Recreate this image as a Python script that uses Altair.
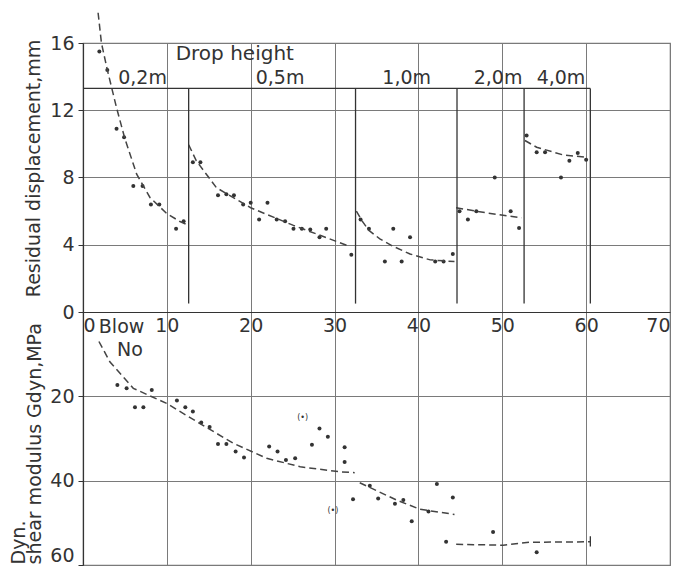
import altair as alt
import pandas as pd

# ---------------- data ----------------
# Residual displacement (mm) vs blow number, grouped by drop height
g02_x = [1.95, 2.9, 4.0, 4.9, 6.0, 7.1, 8.1, 9.1, 11.1, 12.0]
g02_y = [15.5, 14.4, 10.9, 10.4, 7.5, 7.5, 6.4, 6.4, 4.95, 5.4]
g05_x = [13.1, 14.0, 16.1, 17.1, 18.0, 19.1, 20.0, 21.0, 22.0, 23.1, 24.1, 25.1, 26.1, 27.1, 28.2, 29.0, 32.0]
g05_y = [8.9, 8.9, 6.95, 7.0, 6.95, 6.4, 6.5, 5.5, 6.5, 5.5, 5.4, 4.95, 4.95, 4.9, 4.45, 4.95, 3.4]
g10_x = [33.1, 34.1, 36.0, 37.0, 38.0, 39.0, 42.0, 43.0, 44.1]
g10_y = [5.5, 4.95, 3.0, 4.95, 3.0, 4.45, 3.0, 3.0, 3.45]
g20_x = [44.9, 45.9, 46.9, 49.1, 51.0, 52.0]
g20_y = [6.0, 5.5, 6.0, 8.0, 6.0, 5.0]
g40_x = [52.9, 54.1, 55.1, 57.0, 58.0, 59.0, 60.0]
g40_y = [10.5, 9.5, 9.5, 8.0, 9.0, 9.45, 9.05]

# dashed fitted curves, residual displacement
c02_x = [1.8, 2.2, 2.9, 4.0, 5.0, 6.4, 8.0, 10.0, 11.5, 12.4]
c02_y = [17.8, 16.0, 14.4, 12.15, 10.3, 8.2, 6.8, 5.85, 5.4, 5.2]
c05_x = [12.6, 13.5, 15.9, 20.0, 25.1, 29.4, 31.8]
c05_y = [9.95, 9.0, 7.4, 6.2, 5.15, 4.35, 3.9]
c10_x = [32.6, 33.3, 34.1, 35.4, 37.0, 39.0, 41.4, 44.3]
c10_y = [6.0, 5.4, 4.85, 4.35, 3.9, 3.45, 3.1, 3.0]
c20_x = [44.5, 48.1, 52.3]
c20_y = [6.2, 5.9, 5.6]
c40_x = [52.7, 54.1, 57.2, 60.0]
c40_y = [10.2, 9.8, 9.35, 9.2]

# drop height bands
drop_labels = ["0,2m", "0,5m", "1,0m", "2,0m", "4,0m"]
drop_label_x = [7.1, 23.5, 38.6, 49.5, 57.0]
drop_bounds = [12.6, 32.5, 44.6, 52.6, 60.5]

# Dynamic shear modulus (MPa) vs blow number
gd_x = [4.1, 5.2, 6.2, 7.2, 8.2, 11.2, 12.2, 13.1, 14.1, 15.1, 16.1, 17.1, 18.2, 19.2,
        22.2, 23.2, 24.2, 25.3, 27.3, 28.2, 29.2, 31.2, 31.2, 32.2, 34.2, 35.2, 37.2,
        38.2, 39.2, 41.2, 42.2, 44.1, 43.3, 48.9, 54.1]
gd_y = [17.3, 18.1, 22.6, 22.6, 18.5, 21.0, 22.6, 23.6, 26.2, 27.3, 31.3, 31.3, 33.1, 34.5,
        31.9, 33.1, 35.1, 34.7, 31.5, 27.6, 29.6, 32.1, 35.6, 44.4, 41.2, 44.2, 45.5,
        44.6, 49.6, 47.3, 40.8, 44.0, 54.5, 52.2, 57.0]
gd_paren_x = [26.2, 29.8]
gd_paren_y = [25.2, 47.3]

d1_x = [1.9, 3.2, 6.0, 10.0, 13.9, 17.9, 21.9, 25.9, 30.6, 32.4]
d1_y = [7.0, 11.8, 18.1, 21.7, 26.4, 31.1, 34.7, 36.7, 37.9, 38.1]
d2_x = [33.0, 37.4, 40.2, 44.3]
d2_y = [40.5, 44.6, 46.8, 48.0]
d3_x = [44.5, 50.1, 53.3, 60.5]
d3_y = [55.1, 55.3, 54.6, 54.5]

x_ticks = [0, 10, 20, 30, 40, 50, 60, 70]
top_ticks = [0, 4, 8, 12, 16]
bot_ticks = [20, 40, 60]

# ---------------- geometry ----------------
W, H = 587, 522
TOP_PX = 269           # height of the displacement panel (0..16)
BOT_PX = H - TOP_PX    # height of the shear modulus panel (0..60)
top_dom = [16 - H * 16 / TOP_PX, 16]
bot_dom = [-TOP_PX * 60 / BOT_PX, 60]

INK = "#333333"
GRID = "#7a7a7a"
FONT = "DejaVu Sans"

# ---------------- tables ----------------
pts_top = pd.DataFrame({
    "x": g02_x + g05_x + g10_x + g20_x + g40_x,
    "y": g02_y + g05_y + g10_y + g20_y + g40_y,
})
curves_top = pd.concat([
    pd.DataFrame({"x": cx, "y": cy, "seg": name})
    for name, cx, cy in [("c02", c02_x, c02_y), ("c05", c05_x, c05_y), ("c10", c10_x, c10_y),
                         ("c20", c20_x, c20_y), ("c40", c40_x, c40_y)]
], ignore_index=True)
labels_top = pd.DataFrame({"x": drop_label_x, "y": [13.9] * 5, "t": drop_labels})
bounds_top = pd.DataFrame({"x": drop_bounds, "y": [13.3] * 5, "y2": [0.5] * 5})
bracket = pd.DataFrame({"x": [0], "x2": [drop_bounds[-1]], "y": [13.3]})
title_top = pd.DataFrame({"x": [18.1], "y": [15.35], "t": ["Drop height"]})

pts_bot = pd.DataFrame({"x": gd_x, "y": gd_y})
paren_bot = pd.DataFrame({"x": gd_paren_x, "y": gd_paren_y, "t": ["(•)", "(•)"]})
curves_bot = pd.concat([
    pd.DataFrame({"x": cx, "y": cy, "seg": name})
    for name, cx, cy in [("d1", d1_x, d1_y), ("d2", d2_x, d2_y), ("d3", d3_x, d3_y)]
], ignore_index=True)
blow_txt = pd.DataFrame({"x": [4.6, 5.6], "y": [3.6, 9.0], "t": ["Blow", "No"]})
end_tick = pd.DataFrame({"x": [60.5], "y": [53.2], "y2": [55.6]})

# ---------------- scales / axes ----------------
xs = alt.Scale(domain=[0, 70], nice=False, zero=False)
ys_top = alt.Scale(domain=top_dom, nice=False, zero=False)
ys_bot = alt.Scale(domain=bot_dom, nice=False, zero=False, reverse=True)

x_axis = alt.Axis(values=x_ticks, orient="bottom", offset=-BOT_PX, title=None,
                  grid=True, gridColor=GRID, gridWidth=1, gridOpacity=1,
                  ticks=False, domain=True, domainColor=INK, domainWidth=1.2,
                  labelFontSize=19, labelColor=INK, labelPadding=4, labelFont=FONT,
                  labelFlush=True)
y_axis_top = alt.Axis(values=top_ticks, orient="left", grid=True, gridColor=GRID,
                      gridWidth=1, gridOpacity=1, tickSize=5, tickColor=INK,
                      domainColor=INK, domainWidth=1.2,
                      labelFontSize=19, labelColor=INK, labelPadding=4, labelFont=FONT,
                      title="Residual  displacement,mm", titleFontSize=19,
                      titleFontWeight="normal", titleColor=INK, titleFont=FONT,
                      titleAngle=270, titleAlign="center", titleBaseline="middle",
                      titleX=-50, titleY=125)
y_axis_bot = alt.Axis(values=bot_ticks, orient="left", grid=True, gridColor=GRID,
                      gridWidth=1, gridOpacity=1, tickSize=5, tickColor=INK,
                      domain=False, labelFlush=True,
                      labelFontSize=19, labelColor=INK, labelPadding=4, labelFont=FONT,
                      title=["Dyn.", "shear modulus  Gdyn,MPa"], titleFontSize=19,
                      titleFontWeight="normal", titleColor=INK, titleFont=FONT,
                      titleAngle=270, titleAlign="left", titleBaseline="top",
                      titleLineHeight=16, titleX=-74, titleY=H - 1)

def X(field="x"):
    return alt.X(f"{field}:Q", scale=xs, axis=x_axis)

def YT(field="y", axis=None):
    return alt.Y(f"{field}:Q", scale=ys_top, axis=axis)

def YB(field="y", axis=None):
    return alt.Y(f"{field}:Q", scale=ys_bot, axis=axis)

# ---------------- top panel layers ----------------
t_pts = alt.Chart(pts_top).mark_circle(size=16, color=INK, opacity=1).encode(
    x=X(), y=YT(axis=y_axis_top))
t_curves = alt.Chart(curves_top).mark_line(color="#444444", strokeWidth=1.5,
                                           strokeDash=[7, 4]).encode(
    x=X(), y=YT(), detail="seg:N")
t_bounds = alt.Chart(bounds_top).mark_rule(color=INK, strokeWidth=1.3).encode(
    x=X(), y=YT(), y2="y2:Q")
t_bracket = alt.Chart(bracket).mark_rule(color=INK, strokeWidth=1.3).encode(
    x=X(), x2="x2:Q", y=YT())
t_labels = alt.Chart(labels_top).mark_text(fontSize=19, font=FONT, color=INK,
                                           baseline="middle").encode(
    x=X(), y=YT(), text="t:N")
t_title = alt.Chart(title_top).mark_text(fontSize=20, font=FONT, color=INK,
                                         baseline="middle").encode(
    x=X(), y=YT(), text="t:N")

# ---------------- bottom panel layers ----------------
b_pts = alt.Chart(pts_bot).mark_circle(size=16, color=INK, opacity=1).encode(
    x=X(), y=YB(axis=y_axis_bot))
b_paren = alt.Chart(paren_bot).mark_text(fontSize=8, font=FONT, color=INK).encode(
    x=X(), y=YB(), text="t:N")
b_curves = alt.Chart(curves_bot).mark_line(color="#444444", strokeWidth=1.5,
                                           strokeDash=[7, 4]).encode(
    x=X(), y=YB(), detail="seg:N")
b_txt = alt.Chart(blow_txt).mark_text(fontSize=19, font=FONT, color=INK,
                                      baseline="middle").encode(
    x=X(), y=YB(), text="t:N")
b_tick = alt.Chart(end_tick).mark_rule(color=INK, strokeWidth=1.3).encode(
    x=X(), y=YB(), y2="y2:Q")

chart = alt.layer(
    t_pts, t_curves, t_bounds, t_bracket, t_labels, t_title,
    b_pts, b_paren, b_curves, b_txt, b_tick,
).resolve_scale(y="independent").properties(
    width=W, height=H,
    autosize=alt.AutoSizeParams(type="none"),
    padding={"left": 75, "top": 35, "right": 3, "bottom": 1},
    background="white",
).configure_view(stroke=GRID, strokeWidth=1.2)

chart.save("out.html", embed_options={"renderer": "svg", "actions": False})
